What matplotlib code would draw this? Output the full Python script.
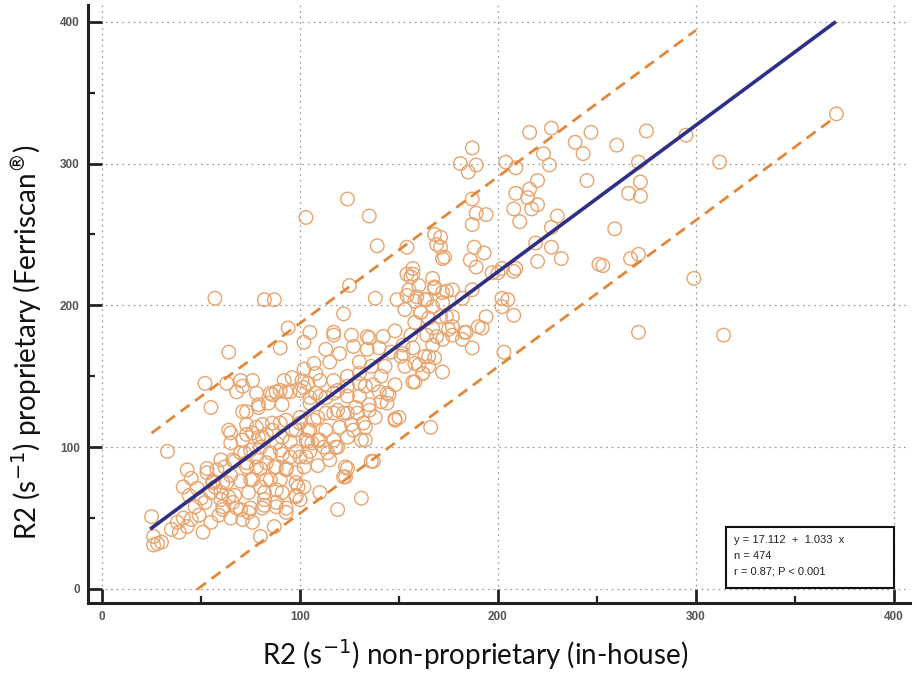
import matplotlib
matplotlib.use("Agg")
import matplotlib.pyplot as plt
from matplotlib.patches import Rectangle
from matplotlib.ticker import MultipleLocator
import numpy as np

# R2 values (in-house vs Ferriscan)
x_inhouse = [
    25, 26, 28, 30, 26, 33, 43, 45, 41, 44, 48, 50, 47, 41, 38, 35, 39, 43, 45, 49,
    52, 55, 57, 60, 56, 53, 58, 62, 65, 61, 64, 61, 59, 65, 71, 74, 70, 66, 51, 55,
    80, 87, 82, 88, 93, 81, 99, 98, 88, 70, 75, 80, 85, 73, 78, 83, 88, 93, 98, 66,
    70, 75, 80, 85, 90, 95, 100, 71, 76, 81, 86, 91, 96, 65, 73, 81, 90, 100, 103, 64,
    65,
    57, 82, 87, 103, 64, 90, 102, 94, 52, 63, 55, 70, 71, 76, 68, 78, 85, 88, 92, 96,
    101, 93, 100, 79, 73, 84, 91, 105,
    71, 79, 86, 90, 95, 102, 108, 113, 119, 124, 130, 137, 144, 141, 144, 148, 135, 129, 122, 117,
    109, 100, 93, 86, 78, 73, 79, 83, 98, 105, 113, 120, 127, 132, 131, 124, 117, 109, 104, 95,
    88, 119, 112, 105, 98, 91, 78, 72, 67, 60, 53, 73, 80, 87, 93, 102, 109, 115, 124, 123,
    137, 98, 90, 83, 76, 63, 56, 98, 110, 91, 82, 74, 67, 60, 82, 88, 75, 68, 61, 93,
    76, 119, 131,
    113, 107, 115, 120, 127, 126, 117, 135, 142, 134, 140, 146, 152, 151, 156, 158, 165, 162, 172, 169,
    177, 184, 187, 158, 148, 141, 140, 145, 133, 130, 135, 138, 133, 126, 133, 148, 166, 118, 123, 136,
    122, 102, 100, 104, 110, 103, 106, 114, 107, 113, 119, 124, 128, 105, 110, 117, 124, 104, 110, 117,
    124, 130, 136, 143, 130, 108, 102,
    124, 135, 139, 154, 168, 169, 172, 157, 156, 160, 155, 167, 168, 174, 177, 125, 138, 149, 164, 154,
    159, 122, 105, 117, 134, 148, 161, 165, 174, 177, 183, 190,
    154, 157, 168, 172, 187, 182, 158, 163, 167, 172, 153, 161, 171, 177, 158, 167, 175, 182, 172, 164,
    157, 167, 152, 163, 168, 160, 165, 153, 162, 157, 194, 192, 202, 205, 202, 208, 203, 150, 200, 208,
    187, 216, 227, 247, 275, 239, 243, 260, 223, 226, 204, 209, 271, 185, 189, 181, 187, 245, 220, 216,
    209, 215, 220, 217, 208, 211, 189, 194, 187, 230, 227, 266, 272, 272, 259, 188, 193, 186, 189, 219,
    227, 220, 232, 209, 197, 202, 251, 267, 271, 173, 171, 171,
    371, 295, 312, 253, 299, 271, 314,
]
y_ferriscan = [
    51, 37, 32, 33, 31, 97, 84, 78, 72, 66, 71, 64, 58, 50, 47, 42, 40, 44, 49, 52,
    61, 68, 72, 68, 76, 82, 84, 86, 80, 75, 65, 58, 52, 50, 49, 54, 56, 61, 40, 47,
    37, 44, 63, 61, 57, 57, 72, 65, 70, 76, 77, 72, 77, 89, 86, 89, 86, 84, 82, 91,
    96, 98, 100, 96, 98, 93, 93, 105, 110, 107, 112, 107, 112, 110, 116, 116, 117, 117, 105, 112,
    103,
    205, 204, 204, 262, 167, 170, 174, 184, 145, 145, 128, 147, 143, 147, 139, 138, 138, 139, 147, 149,
    147, 139, 140, 128, 125, 131, 130, 135,
    125, 130, 137, 140, 139, 142, 138, 135, 140, 143, 145, 144, 138, 132, 131, 119, 126, 124, 124, 124,
    121, 121, 119, 117, 114, 109, 107, 109, 112, 112, 112, 114, 112, 117, 105, 107, 105, 105, 104, 104,
    103, 100, 100, 97, 97, 95, 93, 96, 90, 91, 85, 86, 85, 86, 85, 86, 87, 91, 85, 79,
    90, 75, 77, 77, 77, 75, 75, 66, 68, 68, 68, 68, 66, 63, 59, 58, 57, 57, 56, 54,
    47, 56, 64,
    169, 159, 160, 166, 171, 179, 179, 177, 178, 169, 170, 167, 172, 164, 179, 159, 164, 152, 153, 178,
    179, 181, 170, 146, 144, 150, 139, 137, 143, 136, 130, 121, 114, 116, 105, 120, 114, 100, 86, 90,
    79, 72, 63, 112, 105, 93, 103, 96, 119, 124, 126, 124, 128, 131, 136, 138, 136, 145, 147, 147,
    150, 152, 157, 157, 160, 152, 155,
    275, 263, 242, 241, 250, 243, 233, 226, 220, 214, 211, 219, 213, 210, 211, 214, 205, 204, 204, 207,
    206, 194, 181, 181, 178, 182, 195, 191, 192, 185, 181, 185,
    222, 222, 212, 209, 211, 205, 203, 204, 199, 202, 197, 195, 192, 192, 188, 184, 183, 176, 176, 179,
    170, 172, 166, 164, 163, 158, 157, 157, 152, 146, 192, 184, 205, 204, 199, 193, 167, 121, 223, 224,
    311, 322, 325, 322, 323, 315, 307, 313, 307, 299, 301, 297, 301, 294, 299, 300, 275, 288, 288, 282,
    279, 276, 271, 268, 268, 259, 265, 264, 257, 263, 255, 279, 287, 277, 254, 241, 237, 232, 227, 244,
    241, 231, 233, 226, 223, 226, 229, 233, 236, 234, 241, 248,
    335, 320, 301, 228, 219, 181, 179,
]

# regression printed in the chart, band half-width
intercept = 17.112
slope = 1.033
band_halfwidth = 67
fit_range = [25, 370]
upper_range = [25, 300]
lower_range = [48, 370]

x_ticks = [0, 100, 200, 300, 400]
y_ticks = [0, 100, 200, 300, 400]

stats_lines = ["y = 17.112  +  1.033  x", "n = 474", "r = 0.87; P < 0.001"]

circle_color = "#E8A46C"
band_color = "#E0873A"
navy = "#2F2F86"

fig = plt.figure(figsize=(9.17, 6.76), dpi=100)
ax = fig.add_axes([0.096, 0.108, 0.896, 0.885])

ax.scatter(x_inhouse, y_ferriscan, s=95, facecolors="none",
           edgecolors=circle_color, linewidths=1.0, zorder=3)

fx = np.array(fit_range, dtype=float)
ax.plot(fx, intercept + slope * fx, color=navy, lw=2.6, zorder=4)
ux = np.array(upper_range, dtype=float)
ax.plot(ux, intercept + slope * ux + band_halfwidth, color=band_color,
        lw=2.0, ls=(0, (4, 2.5)), zorder=4)
lx = np.array(lower_range, dtype=float)
ax.plot(lx, intercept + slope * lx - band_halfwidth, color=band_color,
        lw=2.0, ls=(0, (4, 2.5)), zorder=4)

ax.set_xlim(-7.1, 408)
ax.set_ylim(-9.9, 412)
ax.set_xticks(x_ticks)
ax.set_yticks(y_ticks)
ax.xaxis.set_minor_locator(MultipleLocator(50))
ax.yaxis.set_minor_locator(MultipleLocator(50))
ax.grid(True, which="major", color="#a0a0a0", lw=0.9, ls=(0, (1.5, 3)))
ax.set_axisbelow(True)

for side in ["top", "right"]:
    ax.spines[side].set_visible(False)
for side in ["left", "bottom"]:
    ax.spines[side].set_linewidth(2.2)
    ax.spines[side].set_color("#222222")

ax.tick_params(which="major", direction="in", length=10, width=2.0, color="#222222",
               labelsize=8.5, labelcolor="#555555", pad=6)
ax.tick_params(which="minor", direction="in", length=5, width=1.6, color="#222222")
for lab in ax.get_xticklabels() + ax.get_yticklabels():
    lab.set_family("Liberation Sans")
    lab.set_fontweight("bold")

ax.set_xlabel("R2 (s$^{-1}$) non-proprietary (in-house)", family="Lato",
              fontsize=20, color="#111111", va="center")
ax.set_ylabel("R2 (s$^{-1}$) proprietary (Ferriscan$^{\u00ae}$)", family="Lato",
              fontsize=20, color="#111111", va="center")
ax.xaxis.set_label_coords(0.471, -0.087)
ax.yaxis.set_label_coords(-0.075, 0.436)

ax.add_patch(Rectangle((0.777, 0.025), 0.204, 0.102, transform=ax.transAxes,
                       facecolor="white", edgecolor="#111111", lw=1.5, zorder=5))
for i, line in enumerate(stats_lines):
    ax.text(0.786, 0.106 - i * 0.027, line, transform=ax.transAxes, family="Liberation Sans",
            fontsize=8, color="#222222", va="center", ha="left", zorder=6)

fig.savefig("out.png", dpi=100)
